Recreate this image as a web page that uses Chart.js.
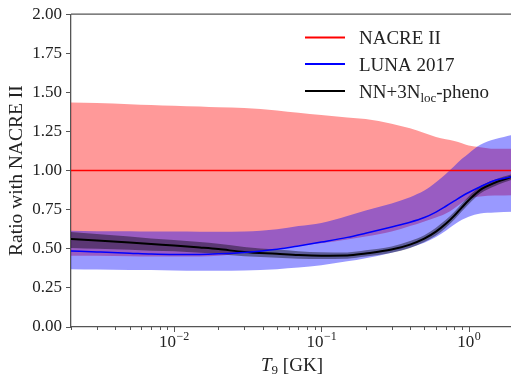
<!DOCTYPE html>
<html>
<head>
<meta charset="utf-8">
<script src="https://cdn.jsdelivr.net/npm/chart.js@4"></script>
<style>
  html, body { margin: 0; padding: 0; background: #fff; overflow: hidden; }
  canvas { display: block; }
</style>
</head>
<body>
<canvas id="ratioChart" width="513" height="376"></canvas>
<script>
// Temperature grid (T9 in GK)
const t9 = [0.002, 0.003, 0.005, 0.007, 0.01, 0.015, 0.02, 0.03, 0.05, 0.07, 0.1, 0.15,
            0.2, 0.3, 0.4, 0.5, 0.6, 0.7, 0.8, 0.9, 1.0, 1.2, 1.5, 2.0];

// NACRE II (reference, ratio = 1) and its band
const nacre   = [1, 1, 1, 1, 1, 1, 1, 1, 1, 1, 1, 1, 1, 1, 1, 1, 1, 1, 1, 1, 1, 1, 1, 1];
const nacreUp = [1.436, 1.432, 1.425, 1.42, 1.415, 1.41, 1.405, 1.40, 1.385, 1.37, 1.355, 1.34,
                 1.33, 1.30, 1.27, 1.24, 1.215, 1.20, 1.19, 1.175, 1.16, 1.15, 1.14, 1.14];
const nacreLo = [0.455, 0.455, 0.452, 0.45, 0.45, 0.45, 0.455, 0.475, 0.50, 0.52, 0.535, 0.56,
                 0.578, 0.61, 0.645, 0.675, 0.70, 0.725, 0.76, 0.795, 0.82, 0.835, 0.84, 0.843];

// LUNA 2017
const luna   = [0.486, 0.48, 0.472, 0.466, 0.463, 0.464, 0.468, 0.477, 0.497, 0.518, 0.543, 0.573,
                0.60, 0.64, 0.67, 0.70, 0.735, 0.772, 0.806, 0.836, 0.86, 0.897, 0.937, 0.962];
const lunaUp = [0.615, 0.613, 0.612, 0.61, 0.61, 0.609, 0.609, 0.61, 0.625, 0.645, 0.665, 0.71,
                0.745, 0.79, 0.83, 0.872, 0.925, 0.978, 1.03, 1.075, 1.11, 1.165, 1.20, 1.23];
const lunaLo = [0.37, 0.368, 0.365, 0.364, 0.362, 0.36, 0.36, 0.362, 0.37, 0.38, 0.395, 0.42,
                0.44, 0.475, 0.507, 0.538, 0.575, 0.615, 0.655, 0.685, 0.705, 0.725, 0.732, 0.737];

// NN+3N_loc-pheno
const nn   = [0.562, 0.553, 0.54, 0.53, 0.521, 0.508, 0.498, 0.48, 0.468, 0.46, 0.456, 0.457,
              0.47, 0.495, 0.527, 0.565, 0.61, 0.66, 0.712, 0.765, 0.81, 0.877, 0.922, 0.962];
const nnUp = [0.607, 0.595, 0.578, 0.566, 0.556, 0.543, 0.532, 0.512, 0.495, 0.485, 0.478, 0.477,
              0.49, 0.515, 0.55, 0.587, 0.635, 0.685, 0.737, 0.79, 0.835, 0.9, 0.942, 0.98];
const nnLo = [0.505, 0.5, 0.494, 0.488, 0.484, 0.475, 0.467, 0.452, 0.443, 0.437, 0.435, 0.437,
              0.45, 0.475, 0.505, 0.543, 0.585, 0.635, 0.687, 0.74, 0.785, 0.853, 0.9, 0.945];

// Axis ticks
const xTickValues = [0.01, 0.1, 1];
const xTickExps = ['\u22122', '\u22121', '0'];

const FONT = '"Liberation Serif", "DejaVu Serif", serif';

function pts(arr) {
    return t9.map((t, i) => ({ x: t, y: arr[i] }));
}

function lineSet(label, arr, color, width) {
    return {
        label: label,
        data: pts(arr),
        borderColor: color,
        borderWidth: width,
        pointRadius: 0,
        fill: false,
        cubicInterpolationMode: 'monotone',
        order: 0
    };
}

function bandSet(arr, fillColor, order, fillTo) {
    return {
        label: '',
        data: pts(arr),
        borderColor: 'rgba(0,0,0,0)',
        borderWidth: 0,
        backgroundColor: fillColor,
        pointRadius: 0,
        fill: fillTo,
        cubicInterpolationMode: 'monotone',
        order: order
    };
}

// Draws top spine, log ticks on x, x labels, x title and the legend
const decorations = {
    id: 'decorations',
    afterDraw(chart) {
        const ctx = chart.ctx;
        const area = chart.chartArea;
        const xs = chart.scales.x;

        ctx.save();
        ctx.strokeStyle = '#555';
        ctx.lineWidth = 1.3;
        ctx.beginPath();
        ctx.moveTo(area.left, area.top);
        ctx.lineTo(area.right, area.top);
        ctx.stroke();

        // major and minor ticks
        ctx.lineWidth = 1;
        for (let e = -3; e <= 0; e++) {
            for (let m = 1; m <= 9; m++) {
                const v = m * Math.pow(10, e);
                if (v < xs.min || v > xs.max) continue;
                const px = Math.round(xs.getPixelForValue(v)) + 0.5;
                const len = m === 1 ? 5 : 3;
                ctx.beginPath();
                ctx.moveTo(px, area.bottom);
                ctx.lineTo(px, area.bottom + len);
                ctx.stroke();
            }
        }

        // tick labels 10^n
        ctx.fillStyle = '#222';
        ctx.textBaseline = 'alphabetic';
        xTickValues.forEach((v, i) => {
            const px = xs.getPixelForValue(v);
            ctx.font = '17px ' + FONT;
            const wBase = ctx.measureText('10').width;
            ctx.font = '12px ' + FONT;
            const wExp = ctx.measureText(xTickExps[i]).width;
            const x0 = px - (wBase + wExp) / 2;
            ctx.font = '17px ' + FONT;
            ctx.textAlign = 'left';
            ctx.fillText('10', x0, 347);
            ctx.font = '12px ' + FONT;
            ctx.fillText(xTickExps[i], x0 + wBase + 0.5, 340);
        });

        // x title: T_9 [GK]
        ctx.font = 'italic 19px ' + FONT;
        const wT = ctx.measureText('T').width;
        ctx.font = '13px ' + FONT;
        const w9 = ctx.measureText('9').width;
        ctx.font = '19px ' + FONT;
        const wRest = ctx.measureText(' [GK]').width;
        let tx = (area.left + area.right) / 2 - (wT + w9 + wRest) / 2;
        ctx.font = 'italic 19px ' + FONT;
        ctx.fillText('T', tx, 371);
        tx += wT;
        ctx.font = '13px ' + FONT;
        ctx.fillText('9', tx, 374);
        tx += w9;
        ctx.font = '19px ' + FONT;
        ctx.fillText(' [GK]', tx, 371);

        // legend
        const legendRows = [
            { color: '#ff0000', parts: [['NACRE II', 19, 0]] },
            { color: '#0000ff', parts: [['LUNA 2017', 19, 0]] },
            { color: '#000000', parts: [['NN+3N', 19, 0], ['loc', 13, 4], ['-pheno', 19, 0]] }
        ];
        const rowY = [37.5, 64, 91];
        legendRows.forEach((row, i) => {
            ctx.strokeStyle = row.color;
            ctx.lineWidth = 2;
            ctx.beginPath();
            ctx.moveTo(305, rowY[i]);
            ctx.lineTo(345, rowY[i]);
            ctx.stroke();
            let lx = 359;
            row.parts.forEach(p => {
                ctx.font = p[1] + 'px ' + FONT;
                ctx.fillStyle = '#222';
                ctx.fillText(p[0], lx, rowY[i] + 6.5 + p[2]);
                lx += ctx.measureText(p[0]).width;
            });
        });
        ctx.restore();
    }
};

const ctx = document.getElementById('ratioChart').getContext('2d');
new Chart(ctx, {
    type: 'line',
    data: {
        datasets: [
            lineSet('NACRE II', nacre, '#ff0000', 1.5),
            lineSet('LUNA 2017', luna, '#0000ff', 1.5),
            lineSet('NN+3N_loc-pheno', nn, '#000000', 2),
            bandSet(nacreUp, 'rgba(255,0,0,0.4)', 3, '+1'),
            bandSet(nacreLo, 'rgba(255,0,0,0.4)', 3, false),
            bandSet(lunaUp, 'rgba(0,0,255,0.4)', 2, '+1'),
            bandSet(lunaLo, 'rgba(0,0,255,0.4)', 2, false),
            bandSet(nnUp, 'rgba(0,0,0,0.4)', 1, '+1'),
            bandSet(nnLo, 'rgba(0,0,0,0.4)', 1, false)
        ]
    },
    options: {
        responsive: false,
        animation: false,
        layout: { padding: { top: 14, right: 0, left: 0, bottom: 0 } },
        plugins: {
            legend: { display: false },
            tooltip: { enabled: false }
        },
        scales: {
            x: {
                type: 'logarithmic',
                min: 0.002,
                max: 2,
                ticks: { display: false },
                grid: { display: false },
                border: { display: true, color: '#555', width: 1.3 },
                afterFit(scale) { scale.height = 49; }
            },
            y: {
                min: 0,
                max: 2,
                ticks: {
                    stepSize: 0.25,
                    color: '#222',
                    padding: 4,
                    font: { family: FONT, size: 17 },
                    callback: v => v.toFixed(2)
                },
                grid: {
                    drawOnChartArea: false,
                    tickLength: 5,
                    color: '#555'
                },
                border: { display: true, color: '#555', width: 1.3 },
                title: {
                    display: true,
                    text: 'Ratio with NACRE II',
                    color: '#222',
                    padding: { top: 5, bottom: 0 },
                    font: { family: FONT, size: 19.5 }
                },
                afterFit(scale) { scale.width = 71; }
            }
        }
    },
    plugins: [decorations]
});
</script>
</body>
</html>
